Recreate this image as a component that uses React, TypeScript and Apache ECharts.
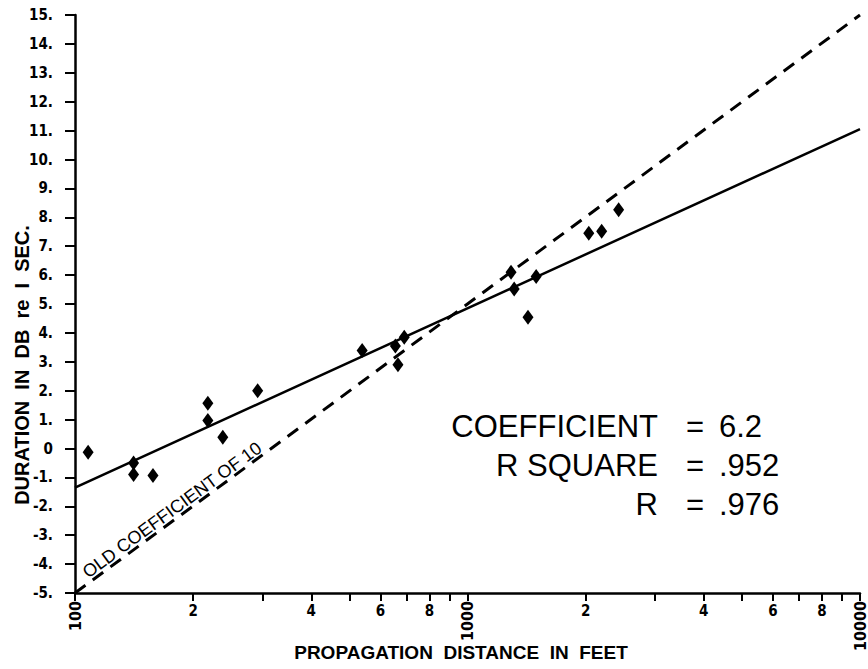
import React, { useEffect, useRef } from "react";
import * as echarts from "echarts";

// Measured points: propagation distance (feet) and duration (dB re 1 sec)
const distanceFeet = [108, 141, 141, 158, 218, 218, 238, 292, 539, 655, 665, 690, 1291, 1315, 1496, 1426, 2037, 2197, 2427];
const durationDb = [-0.13, -0.5, -0.9, -0.93, 1.57, 0.97, 0.39, 2.0, 3.39, 3.55, 2.9, 3.85, 6.1, 5.52, 5.95, 4.54, 7.45, 7.52, 8.26];

// Regression line (coefficient 6.2) and old coefficient of 10 line
const lineX = [100, 10000];
const fitY = [-1.35, 11.05];
const oldY = [-5, 15];

// Axis tick values
const xTickValues = [100, 200, 300, 400, 500, 600, 700, 800, 900, 1000, 2000, 3000, 4000, 5000, 6000, 7000, 8000, 9000, 10000];
const xDigitLabels = [200, 400, 600, 800, 2000, 4000, 6000, 8000];
const xDecadeLabels = [100, 1000, 10000];

const statLabels = ["COEFFICIENT", "R SQUARE", "R"];
const statValues = ["6.2", ".952", ".976"];

const LABEL_FONT = "'Liberation Sans Narrow', 'DejaVu Sans Condensed', 'Liberation Sans', sans-serif";
const TEXT_FONT = "'Liberation Sans', Arial, sans-serif";

export default function App() {
  const ref = useRef<HTMLDivElement>(null);
  useEffect(() => {
    if (!ref.current) return;
    const chart = echarts.init(ref.current, undefined, { renderer: "svg" });
    const points = distanceFeet.map((x, i) => [x, durationDb[i]]);
    const fitLine = lineX.map((x, i) => [x, fitY[i]]);
    const oldLine = lineX.map((x, i) => [x, oldY[i]]);

    const statRowsY = [426, 465, 504];
    const graphics: any[] = [];
    statLabels.forEach((t, i) => {
      graphics.push({
        type: "text", x: 658, y: statRowsY[i],
        style: { text: t, fontSize: 31, fontFamily: TEXT_FONT, fill: "#000", textAlign: "right", textVerticalAlign: "middle" },
      });
      graphics.push({
        type: "text", x: 695, y: statRowsY[i],
        style: { text: "=", fontSize: 31, fontFamily: TEXT_FONT, fill: "#000", textAlign: "center", textVerticalAlign: "middle" },
      });
      graphics.push({
        type: "text", x: 719, y: statRowsY[i],
        style: { text: statValues[i], fontSize: 31, fontFamily: TEXT_FONT, fill: "#000", textAlign: "left", textVerticalAlign: "middle" },
      });
    });
    graphics.push({
      type: "text", x: 172, y: 510, rotation: 0.632,
      style: { text: "OLD COEFFICIENT OF 10", fontSize: 18, fontFamily: TEXT_FONT, fill: "#000", textAlign: "center", textVerticalAlign: "middle" },
    });
    graphics.push({
      type: "text", x: 461, y: 652,
      style: { text: "PROPAGATION  DISTANCE  IN  FEET", fontSize: 19, fontWeight: "bold", fontFamily: TEXT_FONT, fill: "#000", textAlign: "center", textVerticalAlign: "middle" },
    });
    graphics.push({
      type: "text", x: 22, y: 365, rotation: Math.PI / 2,
      style: { text: "DURATION  IN  DB  re  I  SEC.", fontSize: 20, fontWeight: "bold", fontFamily: TEXT_FONT, fill: "#000", textAlign: "center", textVerticalAlign: "middle" },
    });

    const digitFormatter = (v: number) => {
      const p = Math.pow(10, Math.floor(Math.log10(v) + 1e-9));
      return String(Math.round(v / p));
    };

    chart.setOption({
      animation: false,
      backgroundColor: "#fff",
      grid: { left: 75, right: 8, top: 15, bottom: 76, containLabel: false, outerBoundsMode: "none" } as any,
      xAxis: [
        {
          type: "log", logBase: 10, min: 100, max: 10000,
          axisLine: { show: true, onZero: false, lineStyle: { color: "#000", width: 2.5 } },
          axisTick: { show: true, customValues: xTickValues, length: 8, inside: false, lineStyle: { color: "#000", width: 2 } },
          axisLabel: { customValues: xDigitLabels, formatter: digitFormatter, margin: 10, fontSize: 15, fontWeight: "bold", fontFamily: LABEL_FONT, color: "#000" },
          splitLine: { show: false },
          minorTick: { show: false },
        },
        {
          type: "log", logBase: 10, min: 100, max: 10000, position: "bottom",
          axisLine: { show: false, onZero: false },
          axisTick: { show: false },
          axisLabel: { customValues: xDecadeLabels, formatter: (v: number) => String(Math.round(v)), rotate: 90, margin: 8, fontSize: 16, fontWeight: "bold", fontFamily: LABEL_FONT, color: "#000" },
          splitLine: { show: false },
        },
      ],
      yAxis: {
        type: "value", min: -5, max: 15, interval: 1,
        axisLine: { show: true, onZero: false, lineStyle: { color: "#000", width: 2.5 } },
        axisTick: { show: true, length: 10, inside: false, lineStyle: { color: "#000", width: 2 } },
        axisLabel: {
          formatter: (v: number) => (v === 0 ? "0" : v + "."),
          margin: 22, fontSize: 15, fontWeight: "bold", fontFamily: LABEL_FONT, color: "#000",
        },
        splitLine: { show: false },
      },
      series: [
        {
          type: "line", data: oldLine, xAxisIndex: 0, symbol: "none",
          lineStyle: { color: "#000", width: 3, type: [13, 9] }, z: 2,
        },
        {
          type: "line", data: fitLine, xAxisIndex: 0, symbol: "none",
          lineStyle: { color: "#000", width: 2.5 }, z: 3,
        },
        {
          type: "scatter", data: points, xAxisIndex: 0, symbol: "diamond", symbolSize: [11, 15],
          itemStyle: { color: "#000", opacity: 1 }, z: 4,
        },
      ],
      graphic: graphics,
    });
    return () => chart.dispose();
  }, []);
  return <div ref={ref} style={{ position: "absolute", left: 0, top: 0, width: 868, height: 669 }} />;
}
